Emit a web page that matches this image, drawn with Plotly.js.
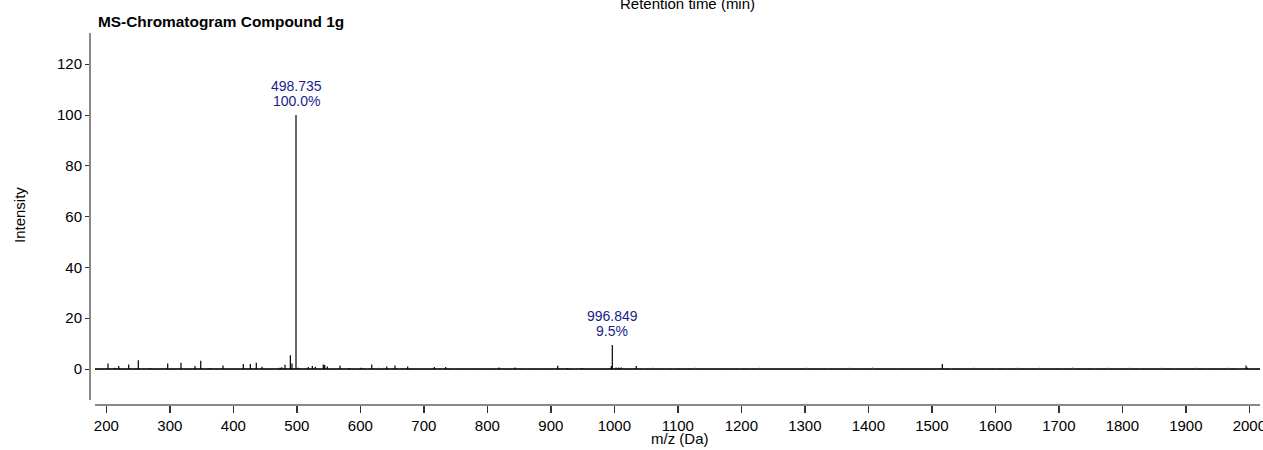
<!DOCTYPE html>
<html>
<head>
<meta charset="utf-8">
<script src="https://cdn.plot.ly/plotly-3.0.1.min.js"></script>
<style>html,body{margin:0;padding:0;background:#fff;}#chart{width:1263px;height:450px;}</style>
</head>
<body>
<div id="chart"></div>
<script>
// Main peaks (m/z, relative intensity %)
const peakMz = [202.7, 213.7, 219.5, 235.3, 250.4, 268.8, 296.7, 317.6, 339.7, 348.7, 363.3, 383.8,
  415.7, 426.8, 436.2, 445.2, 473.5, 476.2, 481.4, 489.8, 492.4, 498.735, 502.4, 518.1, 524.4, 529.1,
  541.7, 543.9, 548.0, 568.0, 582.7, 601.0, 618.0, 641.6, 654.6, 674.6, 716.5, 734.5, 818.4, 843.6,
  910.9, 926.6, 948.7, 995.2, 996.849, 1002.7, 1007.0, 1011.0, 1034.6, 1516.5, 1994.8, 1996.5];
const peakInt = [2.2, 0.5, 1.2, 1.8, 3.5, 0.4, 2.2, 2.5, 1.2, 3.3, 0.4, 1.4,
  2.0, 2.0, 2.5, 0.9, 0.5, 0.7, 1.7, 5.4, 2.2, 100.0, 0.5, 0.8, 1.2, 0.9,
  1.8, 1.6, 1.0, 1.4, 0.4, 0.5, 1.8, 1.0, 1.4, 1.0, 0.8, 0.8, 0.6, 0.6,
  1.3, 0.4, 0.4, 1.2, 9.5, 0.6, 0.6, 0.6, 1.2, 2.0, 1.4, 0.6];

// Small baseline noise sticks
const noiseMz = [560, 592, 611, 629, 662, 688, 705, 748, 771, 792, 861, 879, 936, 961, 976,
  1046, 1061, 1079, 1093, 1111, 1127, 1146, 1162, 1181, 1197, 1216, 1229, 1251, 1267, 1286, 1303,
  1321, 1336, 1356, 1371, 1391, 1407, 1426, 1444, 1461, 1477, 1496, 1531, 1547, 1566, 1582, 1601,
  1619, 1635, 1654, 1670, 1689, 1706, 1722, 1742, 1757, 1777, 1792, 1812, 1827, 1847, 1862, 1882,
  1897, 1917, 1932, 1952, 1967, 1984];
const noiseInt = [0.3, 0.4, 0.3, 0.5, 0.3, 0.4, 0.3, 0.4, 0.3, 0.3, 0.4, 0.3, 0.3, 0.4, 0.3,
  0.4, 0.5, 0.3, 0.4, 0.3, 0.5, 0.3, 0.4, 0.3, 0.4, 0.3, 0.5, 0.3, 0.4, 0.3, 0.5,
  0.3, 0.4, 0.3, 0.5, 0.3, 0.6, 0.3, 0.4, 0.3, 0.4, 0.3, 0.4, 0.3, 0.5, 0.3, 0.4,
  0.3, 0.5, 0.4, 0.5, 0.3, 0.4, 0.6, 0.3, 0.4, 0.5, 0.3, 0.5, 0.4, 0.3, 0.5, 0.4,
  0.3, 0.5, 0.4, 0.3, 0.5, 0.4];

// Labelled peaks
const labelMz = [498.735, 996.849];
const labelInt = [100.0, 9.5];
const labelText = ["498.735", "996.849"];
const labelPct = ["100.0%", "9.5%"];

const xTicks = [200,300,400,500,600,700,800,900,1000,1100,1200,1300,1400,1500,1600,1700,1800,1900,2000];
const yTicks = [0,20,40,60,80,100,120];

function sticks(mz, inten) {
  const xs = [], ys = [];
  for (let i = 0; i < mz.length; i++) {
    xs.push(mz[i], mz[i], null);
    ys.push(0, inten[i], null);
  }
  return {xs, ys};
}
const n = sticks(noiseMz, noiseInt);
const p = sticks(peakMz, peakInt);

const FONT = 'Liberation Sans, Arial, sans-serif';
const data = [
  {type:'scatter', mode:'lines', x:n.xs, y:n.ys, line:{color:'#555', width:1}, hoverinfo:'skip', showlegend:false},
  {type:'scatter', mode:'lines', x:p.xs, y:p.ys, line:{color:'#000', width:1.2}, hoverinfo:'skip', showlegend:false}
];

const annotations = [];
for (let i = 0; i < labelMz.length; i++) {
  annotations.push({xref:'x', yref:'y', x:labelMz[i], y:labelInt[i], text:labelText[i], showarrow:false,
    xanchor:'center', yanchor:'middle', yshift:29, font:{family:FONT, size:14, color:'#1c1c8c'}});
  annotations.push({xref:'x', yref:'y', x:labelMz[i], y:labelInt[i], text:labelPct[i], showarrow:false,
    xanchor:'center', yanchor:'middle', yshift:14, font:{family:FONT, size:14, color:'#1c1c8c'}});
}
annotations.push({xref:'paper', yref:'paper', x:(687-90)/1170, y:1+(33-3)/372, text:'Retention time (min)', showarrow:false,
  xanchor:'center', yanchor:'middle', font:{family:FONT, size:15, color:'#000'}});
annotations.push({xref:'paper', yref:'paper', x:(19-90)/1170, y:(405-215)/372, text:'Intensity', textangle:-90, showarrow:false,
  xanchor:'center', yanchor:'middle', font:{family:FONT, size:15, color:'#000'}});
annotations.push({xref:'paper', yref:'paper', x:(680-90)/1170, y:(405-439)/372, text:'m/z (Da)', showarrow:false,
  xanchor:'center', yanchor:'middle', font:{family:FONT, size:15, color:'#000'}});

const layout = {
  width:1263, height:450,
  margin:{l:90, r:3, t:33, b:45, pad:0},
  paper_bgcolor:'#fff', plot_bgcolor:'#fff',
  title:{text:'<b>MS-Chromatogram Compound 1g</b>', xref:'container', yref:'container', x:98/1263, xanchor:'left',
    y:1-22/450, yanchor:'middle', font:{family:FONT, size:15.4, color:'#000'}},
  xaxis:{domain:[5/1170, 1], range:[182.2, 2016.8], anchor:'free', position:0,
    tickmode:'array', tickvals:xTicks, ticktext:xTicks.map(String),
    ticks:'outside', ticklen:7, tickwidth:1.5, tickcolor:'#333',
    ticklabeloverflow:'allow',
    showline:true, linecolor:'#888', linewidth:2, showgrid:false, zeroline:false,
    tickfont:{family:FONT, size:15, color:'#000'}},
  yaxis:{domain:[5/372, 1], range:[-12.2, 132.3], anchor:'free', position:0,
    tickmode:'array', tickvals:yTicks, ticktext:yTicks.map(String),
    ticks:'outside', ticklen:4, tickwidth:1, tickcolor:'#333',
    showline:true, linecolor:'#888', linewidth:2, showgrid:false,
    zeroline:true, zerolinecolor:'#333', zerolinewidth:1.5,
    tickfont:{family:FONT, size:15, color:'#000'}},
  annotations: annotations
};

Plotly.newPlot('chart', data, layout, {staticPlot:true, displayModeBar:false});
</script>
</body>
</html>
